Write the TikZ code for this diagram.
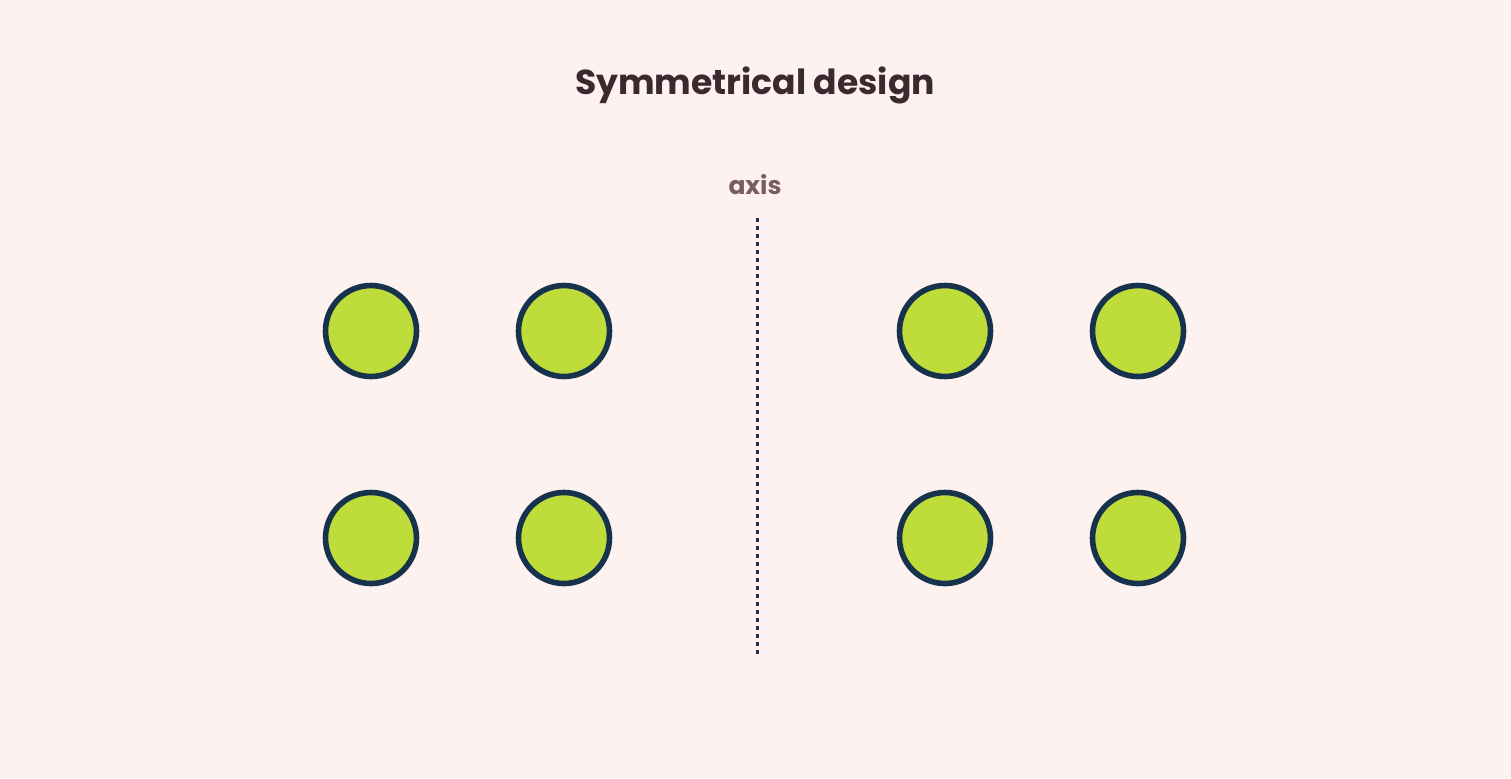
\documentclass[tikz,border=0pt]{standalone}
\usepackage{fontspec}
\setmainfont{Poppins}
\definecolor{bg}{HTML}{FDF2F0}
\definecolor{dot}{HTML}{BEDC3A}
\definecolor{rim}{HTML}{17324D}
\definecolor{ttl}{HTML}{3A2A30}
\definecolor{ax}{HTML}{7A5C66}
\begin{document}
\begin{tikzpicture}[x=0.5pt,y=-0.5pt,
  ball/.style={circle,fill=dot,draw=rim,line width=2.8pt,minimum size=45.5pt,inner sep=0pt}]
\fill[bg] (0,0) rectangle (1511,778);
\node[text=ttl,font=\fontsize{17.3}{19}\selectfont\bfseries] (title) at (755,85) {Symmetrical design};
\node[text=ax,font=\fontsize{12.5}{14}\selectfont\bfseries] (axl) at (755,185) {axis};
\coordinate (t) at (757,218);
\coordinate (b) at (757,657);
\draw[rim,line width=1.5pt,dash pattern=on 2pt off 2pt] (t) -- (b);
\foreach \x/\n in {371/a,564/b,945/c,1138/d}{
  \node[ball] (\n1) at (\x,331) {};
  \node[ball] (\n2) at (\x,538) {};
}
\end{tikzpicture}
\end{document}
